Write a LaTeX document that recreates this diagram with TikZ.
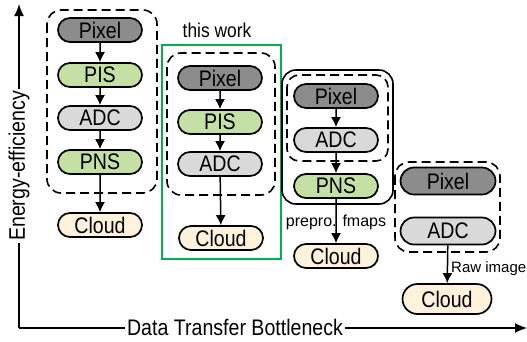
\documentclass[tikz,border=0pt]{standalone}
\usepackage{fontspec}
\setmainfont{Liberation Sans}[FakeStretch=0.87]
\newfontfamily\labelfont{Liberation Sans}
\usetikzlibrary{arrows.meta,shapes.misc}
\definecolor{pixgray}{RGB}{140,140,140}
\definecolor{adcgray}{RGB}{217,217,217}
\definecolor{pisgreen}{RGB}{197,224,165}
\definecolor{cloudcream}{RGB}{255,242,220}
\definecolor{workgreen}{RGB}{0,176,80}
\tikzset{
  pill/.style={rounded rectangle, draw=black, line width=1.7pt, minimum width=85pt, minimum height=24pt, inner sep=0.5pt, font=\fontsize{22.5}{22.5}\selectfont},
  pixnode/.style={pill, fill=pixgray},
  adcnode/.style={pill, fill=adcgray},
  greennode/.style={pill, fill=pisgreen},
  cloudnode/.style={pill, fill=cloudcream},
  flow/.style={-{Latex[length=10pt,width=10pt]}, line width=1.5pt},
  dashbox/.style={draw=black, dash pattern=on 9pt off 5pt, line width=1.6pt, rounded corners=14pt},
  solidbox/.style={draw=black, line width=1.6pt, rounded corners=14pt},
  axis/.style={-{Latex[length=12pt,width=10pt]}, line width=1.5pt},
  axislabel/.style={fill=white, inner sep=2pt, font=\fontsize{22.5}{22.5}\selectfont},
  smalllabel/.style={inner sep=1pt, font=\labelfont\fontsize{16}{16}\selectfont}
}
\begin{document}
\begin{tikzpicture}[x=1pt,y=-1pt]
\useasboundingbox (0,0) rectangle (527,341);
% axes
\coordinate (corner) at (19,328);
\coordinate (ytop) at (19,4);
\coordinate (xend) at (527,328);
\draw[axis] (corner) -- (ytop);
\draw[axis] (corner) -- (xend);
\node[axislabel, rotate=90] (ylab) at (19,166) {Energy-efficiency};
\node[axislabel] (xlab) at (235,327) {Data Transfer Bottleneck};

% column 1
\draw[dashbox] (47,10) rectangle (157,193);
\node[pixnode] (p1) at (100,30) {Pixel};
\node[greennode] (s1) at (100,75) {PIS};
\node[adcnode] (a1) at (100,118) {ADC};
\node[greennode] (n1) at (100,162) {PNS};
\node[cloudnode] (c1) at (100,225) {Cloud};
\draw[flow] (p1) -- (s1);
\draw[flow] (s1) -- (a1);
\draw[flow] (a1) -- (n1);
\draw[flow] (n1) -- (c1);

% column 2 (this work)
\draw[draw=workgreen, line width=2.6pt] (162,45) rectangle (281,259);
\node[font=\fontsize{20}{20}\selectfont] (tw) at (217,30) {this work};
\draw[dashbox] (167,53) rectangle (275,195);
\node[pixnode] (p2) at (220,78) {Pixel};
\node[greennode] (s2) at (220,122) {PIS};
\node[adcnode] (a2) at (220,164) {ADC};
\node[cloudnode] (c2) at (221,238) {Cloud};
\draw[flow] (p2) -- (s2);
\draw[flow] (s2) -- (a2);
\draw[flow] (a2) -- (c2);

% column 3
\draw[solidbox] (282,70) rectangle (393,204);
\draw[dashbox, rounded corners=12pt] (287,75) rectangle (388,161);
\node[pixnode] (p3) at (336,96) {Pixel};
\node[adcnode] (a3) at (336,140) {ADC};
\node[greennode] (n3) at (336,186) {PNS};
\node[cloudnode] (c3) at (336,256) {Cloud};
\draw[flow] (p3) -- (a3);
\draw[flow] (a3) -- (n3);
\draw[flow] (n3) -- (c3);
\node[smalllabel] (pf) at (336,222) {prepro. fmaps};

% column 4
\draw[dashbox] (395,162) rectangle (500,252);
\node[pixnode, minimum width=96pt, minimum height=27pt] (p4) at (448,181) {Pixel};
\node[adcnode, minimum width=96pt, minimum height=27pt] (a4) at (448,231) {ADC};
\node[cloudnode, minimum width=90pt, minimum height=30pt] (c4) at (447,299) {Cloud};
\draw[flow] (a4) -- (c4);
\node[smalllabel, anchor=west, font=\labelfont\fontsize{15}{15}\selectfont] (raw) at (450,269) {Raw image};
\end{tikzpicture}
\end{document}
